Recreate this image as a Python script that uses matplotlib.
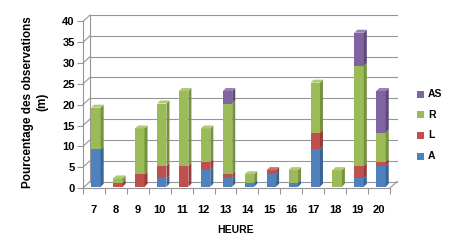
import matplotlib.pyplot as plt
import numpy as np
from matplotlib.patches import Rectangle, Polygon

# data
heures = ["7", "8", "9", "10", "11", "12", "13", "14", "15", "16", "17", "18", "19", "20"]
A = [9, 0, 0, 2, 0, 4, 2, 1, 3, 1, 9, 0, 2, 5]
L = [0, 1, 3, 3, 5, 2, 1, 0, 1, 0, 4, 0, 3, 1]
R = [10, 1, 11, 15, 18, 8, 17, 2, 0, 3, 12, 4, 24, 7]
AS = [0, 0, 0, 0, 0, 0, 3, 0, 0, 0, 0, 0, 8, 10]
series = [("A", A), ("L", L), ("R", R), ("AS", AS)]

front = {"A": "#4F81BD", "L": "#C0504D", "R": "#9BBB59", "AS": "#8064A2"}
side = {"A": "#3A6396", "L": "#963C39", "R": "#76923C", "AS": "#5F497A"}
top = {"A": "#6E97CC", "L": "#CF716E", "R": "#AFCB78", "AS": "#9A80B9"}

W, H = 452, 250
fig = plt.figure(figsize=(4.52, 2.5), dpi=100)
ax = fig.add_axes([83 / W, 1 - 188 / H, 307 / W, 166.5 / H])
n = len(heures)
ax.set_xlim(-0.5, n - 0.5)
ax.set_ylim(0, 40)

px = n / 307.0          # data units per pixel, x
py = 40 / 166.5         # data units per pixel, y
wall_dx, wall_dy = 7 * px, 6.5 * py
dep_dx, dep_dy = 3 * px, 3 * py
grid_c = "#969696"

# back wall gridlines with the short left-wall diagonals
for yv in range(0, 41, 5):
    ax.plot([-0.5 + wall_dx, n - 0.5 + wall_dx], [yv + wall_dy, yv + wall_dy],
            color=grid_c, lw=0.8, clip_on=False, zorder=1)
    ax.plot([-0.5, -0.5 + wall_dx], [yv, yv + wall_dy],
            color=grid_c, lw=0.8, clip_on=False, zorder=1)
ax.plot([-0.5 + wall_dx, -0.5 + wall_dx], [wall_dy, 40 + wall_dy],
        color=grid_c, lw=0.8, clip_on=False, zorder=1)
# floor right diagonal
ax.plot([n - 0.5, n - 0.5 + wall_dx], [0, wall_dy], color=grid_c, lw=0.8,
        clip_on=False, zorder=1)

bw = 0.43
shift = 2 * px
base0 = 0.3
for i in range(n):
    x0 = i - bw / 2 + shift
    bottom = base0
    segs = [(name, vals[i]) for name, vals in series if vals[i] > 0]
    for k, (name, v) in enumerate(segs):
        ax.add_patch(Rectangle((x0, bottom), bw, v, facecolor=front[name],
                               edgecolor="none", zorder=3))
        ax.add_patch(Polygon([(x0 + bw, bottom), (x0 + bw + dep_dx, bottom + dep_dy),
                              (x0 + bw + dep_dx, bottom + v + dep_dy), (x0 + bw, bottom + v)],
                             closed=True, facecolor=side[name], edgecolor="none", zorder=3))
        if k == len(segs) - 1:
            t = bottom + v
            ax.add_patch(Polygon([(x0, t), (x0 + bw, t), (x0 + bw + dep_dx, t + dep_dy),
                                  (x0 + dep_dx, t + dep_dy)], closed=True,
                                 facecolor=top[name], edgecolor="none", zorder=3))
        bottom += v

for s in ["top", "right"]:
    ax.spines[s].set_visible(False)
ax.spines["left"].set_color(grid_c)
ax.spines["bottom"].set_color(grid_c)
ax.patch.set_alpha(0)

font = "Liberation Sans"
ax.set_yticks(range(0, 41, 5))
ax.set_yticklabels([str(v) for v in range(0, 41, 5)], fontsize=8, fontweight="bold",
                   family=font)
ax.set_xticks(np.arange(-0.5, n, 1.0))
ax.set_xticklabels([])
ax.set_xticks(np.arange(n), minor=True)
ax.set_xticklabels(heures, minor=True, fontsize=8, fontweight="bold", family=font)
ax.tick_params(axis="x", which="minor", length=0, pad=12)
ax.tick_params(axis="x", which="major", length=4, color=grid_c, direction="out")
ax.tick_params(axis="y", length=4, color=grid_c, pad=2)

fig.text(236 / W, 1 - 230 / H, "HEURE", ha="center", va="center", fontsize=7.5,
         fontweight="bold", family=font)
fig.text(35 / W, 1 - 102 / H, "Pourcentage des observations\n(m)", ha="center",
         va="center", rotation=90, fontsize=8.5, fontweight="bold", family=font,
         linespacing=1.2)

# legend
for j, (name, _) in enumerate(reversed(series)):
    yc = 94 + j * 20.7
    fig.patches.append(Rectangle((417 / W, 1 - (yc + 3.5) / H), 7 / W, 7 / H,
                                 facecolor=front[name], edgecolor="none",
                                 transform=fig.transFigure, figure=fig))
    fig.text(428 / W, 1 - yc / H, name, ha="left", va="center", fontsize=7.5,
             fontweight="bold", family=font)

fig.savefig("out.png", dpi=100)
